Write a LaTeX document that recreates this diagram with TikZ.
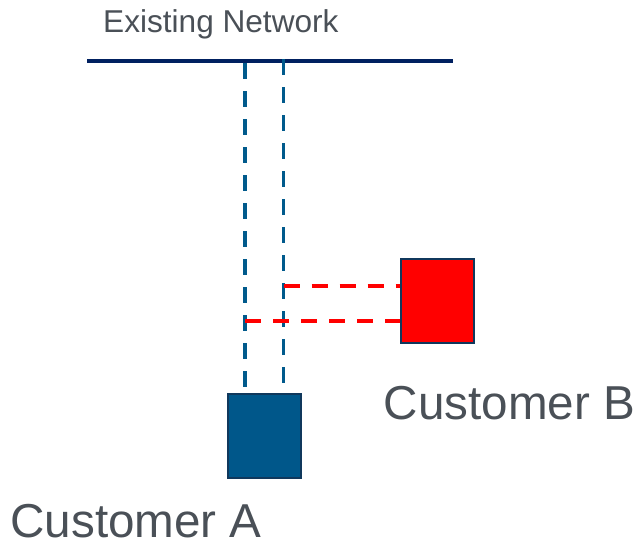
\documentclass[tikz,border=0pt]{standalone}
\usepackage{fontspec}
\setmainfont{Liberation Sans}
\definecolor{netnavy}{RGB}{0,32,96}
\definecolor{linkblue}{RGB}{0,90,140}
\definecolor{custblue}{RGB}{0,87,138}
\definecolor{boxedge}{RGB}{16,56,92}
\definecolor{labelgray}{RGB}{74,80,87}
\begin{document}
\begin{tikzpicture}[x=1pt,y=-1pt,
  custbox/.style={rectangle,draw=boxedge,line width=2pt,inner sep=0pt,
    minimum width=73pt,minimum height=84pt},
  netline/.style={draw=netnavy,line width=3.5pt},
  bluelink/.style={draw=linkblue,line width=3.8pt,dash pattern=on 16pt off 12pt},
  redlink/.style={draw=red,line width=3.8pt,dash pattern=on 16pt off 12pt},
  lbl/.style={text=labelgray,inner sep=0pt,anchor=base west}]
\useasboundingbox (0,0) rectangle (641,550);

% existing network bus
\coordinate (netL) at (87,61);
\coordinate (netR) at (453,61);
\draw[netline] (netL) -- (netR);
\node[lbl,font=\fontsize{31.6}{38}\selectfont] (nettxt) at (103,32.5) {Existing Network};

% customers
\node[custbox,fill=custblue] (custA) at (264.5,436) {};
\node[custbox,fill=red] (custB) at (437.9,301) {};
\node[lbl,font=\fontsize{47.6}{57}\selectfont] (txtA) at (10.3,537) {Customer A};
\node[lbl,font=\fontsize{47.6}{57}\selectfont] (txtB) at (383.7,419) {Customer B};

% fibre pairs down to customer A
\coordinate (tapA1) at (244.7,63);
\coordinate (endA1) at (244.7,387);
\coordinate (tapA2) at (283.5,59);
\coordinate (endA2) at (283.5,383);
\draw[bluelink] (tapA1) -- (endA1);
\draw[bluelink] (tapA2) -- (endA2);

% branches over to customer B
\coordinate (brB1) at (283.5,285.8);
\coordinate (brB2) at (245,321);
\draw[redlink] (brB1) -- (brB1 -| custB.west);
\draw[redlink] (brB2) -- (brB2 -| custB.west);
\end{tikzpicture}
\end{document}
